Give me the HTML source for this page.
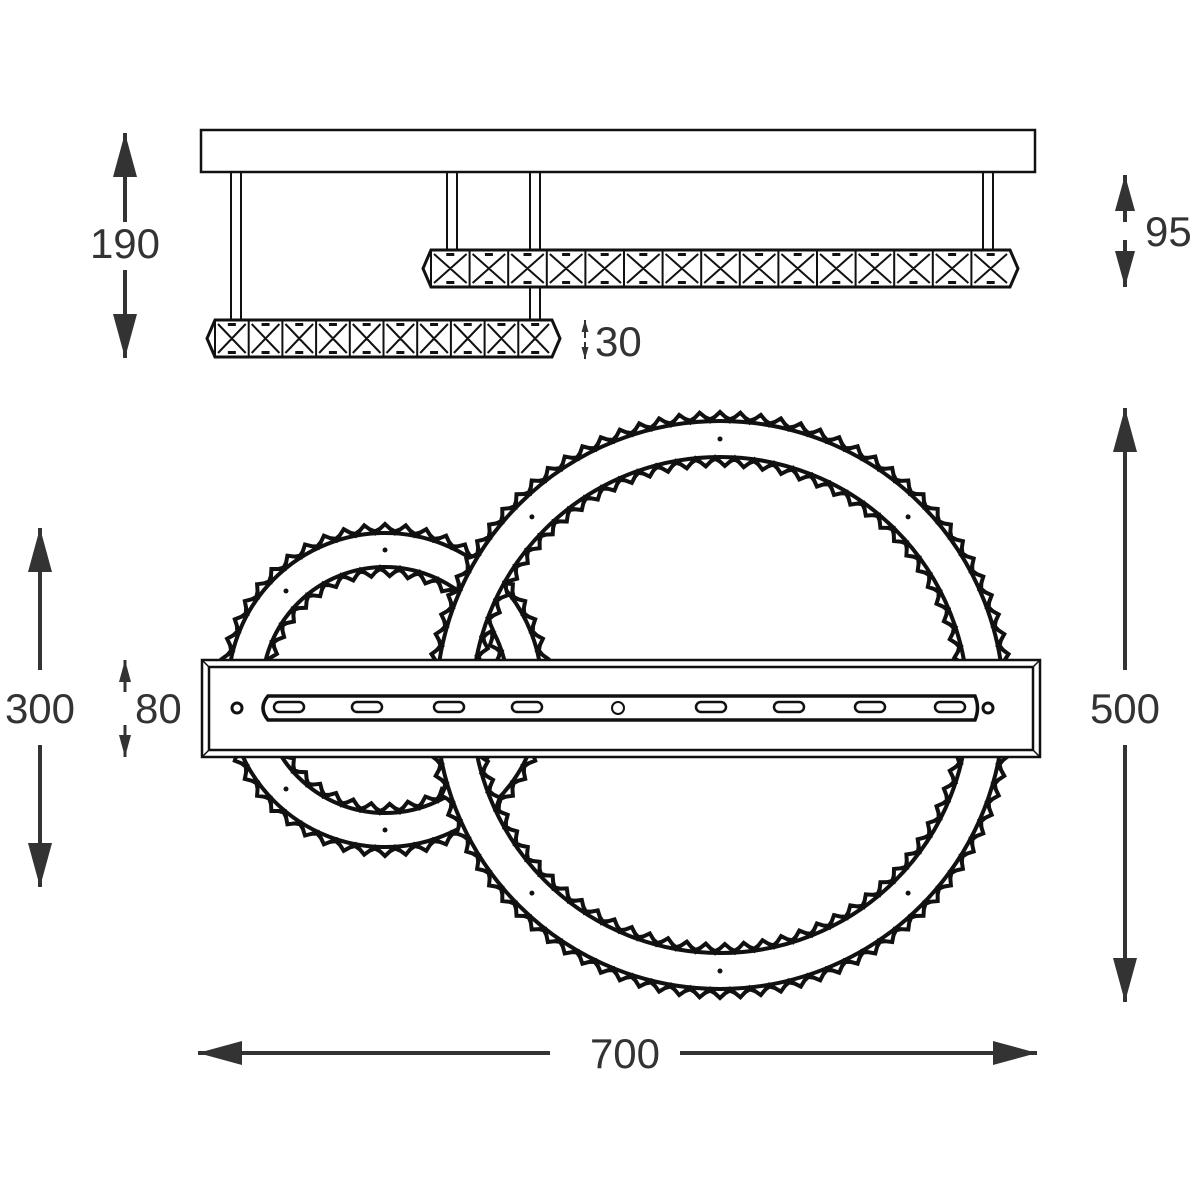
<!DOCTYPE html><html><head><style>body{margin:0;background:#fff}svg{display:block}text{font-family:"Liberation Sans",sans-serif;font-size:42px;fill:#333}</style></head><body>
<svg id="s" width="1200" height="1200" viewBox="0 0 1200 1200" stroke="#111" fill="none" stroke-width="2.5">
<defs><marker id="a" viewBox="0 0 10 10" refX="10" refY="5" markerWidth="44" markerHeight="24" markerUnits="userSpaceOnUse" orient="auto" preserveAspectRatio="none"><path d="M0,0L10,5L0,10z" fill="#333" stroke="none"/></marker>
<marker id="d" viewBox="0 0 10 10" refX="10" refY="5" markerWidth="36" markerHeight="20" markerUnits="userSpaceOnUse" orient="auto" preserveAspectRatio="none"><path d="M0,0L10,5L0,10z" fill="#333" stroke="none"/></marker>
<marker id="b" viewBox="0 0 10 10" refX="10" refY="5" markerWidth="22" markerHeight="12" markerUnits="userSpaceOnUse" orient="auto" preserveAspectRatio="none"><path d="M0,0L10,5L0,10z" fill="#333" stroke="none"/></marker>
<marker id="c" viewBox="0 0 10 10" refX="10" refY="5" markerWidth="12" markerHeight="7" markerUnits="userSpaceOnUse" orient="auto" preserveAspectRatio="none"><path d="M0,0L10,5L0,10z" fill="#333" stroke="none"/></marker></defs>
<rect x="201" y="130" width="834" height="42"/>
<g stroke-width="2"><rect x="231" y="172" width="10" height="148"/><rect x="447" y="172" width="10" height="78"/><rect x="530" y="172" width="10" height="148"/><rect x="983" y="172" width="10" height="78"/></g>
<g id="bands"></g>
<g id="rings"></g>
<rect x="202" y="660" width="838" height="97" fill="#fff"/>
<rect x="209" y="667" width="824" height="83"/>
<path d="M202,660L209,667M1040,660L1033,667M202,757L209,750M1040,757L1033,750" stroke-width="1.5"/>
<path d="M268,696H975Q980,708 975,720H268Q258,708 268,696z" stroke-width="3.5" fill="#fff"/>
<circle cx="237" cy="708" r="5" stroke-width="3"/><circle cx="988" cy="708" r="5" stroke-width="3"/><circle cx="618" cy="708" r="6" stroke-width="2"/>
<g stroke-width="2.5"><rect x="274" y="702" width="30" height="10" rx="5"/><rect x="352" y="702" width="30" height="10" rx="5"/><rect x="434" y="702" width="30" height="10" rx="5"/><rect x="512" y="702" width="30" height="10" rx="5"/><rect x="696" y="702" width="30" height="10" rx="5"/><rect x="774" y="702" width="30" height="10" rx="5"/><rect x="855" y="702" width="30" height="10" rx="5"/><rect x="935" y="702" width="30" height="10" rx="5"/></g>
<g stroke="#333" stroke-width="4" marker-end="url(#a)">
<line x1="125" y1="222" x2="125" y2="133"/><line x1="125" y1="270" x2="125" y2="358"/>
<line x1="40" y1="670" x2="40" y2="528"/><line x1="40" y1="745" x2="40" y2="887"/>
<line x1="1125" y1="670" x2="1125" y2="408"/><line x1="1125" y1="745" x2="1125" y2="1002"/>
<line x1="550" y1="1053" x2="198" y2="1053"/><line x1="680" y1="1053" x2="1037" y2="1053"/>
</g>
<g stroke="#333" stroke-width="4" marker-end="url(#d)">
<line x1="1125" y1="222" x2="1125" y2="175"/><line x1="1125" y1="240" x2="1125" y2="287"/>
</g>
<g stroke="#333" stroke-width="3" marker-end="url(#b)">
<line x1="125" y1="692" x2="125" y2="660"/><line x1="125" y1="725" x2="125" y2="757"/>
</g>
<g stroke="#333" stroke-width="2" marker-end="url(#c)">
<line x1="585" y1="338" x2="585" y2="320"/><line x1="585" y1="342" x2="585" y2="359"/>
</g>
<g stroke="none"><text x="125" y="258" text-anchor="middle">190</text><text x="1145" y="246">95</text><text x="595" y="356">30</text>
<text x="40" y="723" text-anchor="middle">300</text><text x="135" y="723">80</text><text x="1125" y="723" text-anchor="middle">500</text><text x="625" y="1068" text-anchor="middle">700</text></g>
</svg>
<script>
var NS="http://www.w3.org/2000/svg";
function el(p,t,a){var e=document.createElementNS(NS,t);for(var k in a)e.setAttribute(k,a[k]);p.appendChild(e);return e}
var B=document.getElementById('bands');
function band(x1,x2,y1,y2,cw){var h=y2-y1;
 el(B,'path',{d:`M${x1+8},${y1}H${x2-8}L${x2},${y1+h/2}L${x2-8},${y2}H${x1+8}L${x1},${y1+h/2}z`,fill:'#fff','stroke-width':3});
 var n=Math.round((x2-x1-16)/cw),w=(x2-x1-16)/n,d='';
 for(var i=0;i<n;i++){var a=x1+8+i*w,b=a+w;d+=`M${a},${y1}V${y2}M${a+3},${y1+4}L${b-3},${y2-4}M${b-3},${y1+4}L${a+3},${y2-4}`;
  el(B,'rect',{x:a+w/2-4,y:y1+3,width:8,height:3,fill:'#111',stroke:'none'});el(B,'rect',{x:a+w/2-4,y:y2-6,width:8,height:3,fill:'#111',stroke:'none'});}
 el(B,'path',{d:d,'stroke-width':2});}
band(423,1018,250,287,38);band(207,560,320,357,34);
var R=document.getElementById('rings');
function zig(cx,cy,r,amp,n){var d='';for(var i=0;i<=2*n;i++){var t=i*Math.PI/n,rr=r+(i%2?amp:0);d+=(i?'L':'M')+(cx+rr*Math.cos(t)).toFixed(1)+','+(cy+rr*Math.sin(t)).toFixed(1)}return d+'z'}
function ring(cx,cy,ro,ri,n,fill){
 el(R,'path',{d:zig(cx,cy,ro,9,n)+zig(cx,cy,ri,-9,Math.round(n*ri/ro)),'fill-rule':'evenodd',fill:fill?'#fff':'none','stroke-width':4});
 el(R,'path',{d:zig(cx,cy,ro+3,5,n)+zig(cx,cy,ri-3,-5,Math.round(n*ri/ro)),'stroke-width':2});
 el(R,'circle',{cx:cx,cy:cy,r:ro,'stroke-width':4});el(R,'circle',{cx:cx,cy:cy,r:ri,'stroke-width':4});
 for(var k=0;k<8;k++){var t=k*Math.PI/4-Math.PI/2,r=(ro+ri)/2;el(R,'circle',{cx:cx+r*Math.cos(t),cy:cy+r*Math.sin(t),r:2.5,fill:'#111',stroke:'none'})}}
ring(385,690,157,123,50,false);ring(720,705,284,248,90,true);
</script>
</body></html>
